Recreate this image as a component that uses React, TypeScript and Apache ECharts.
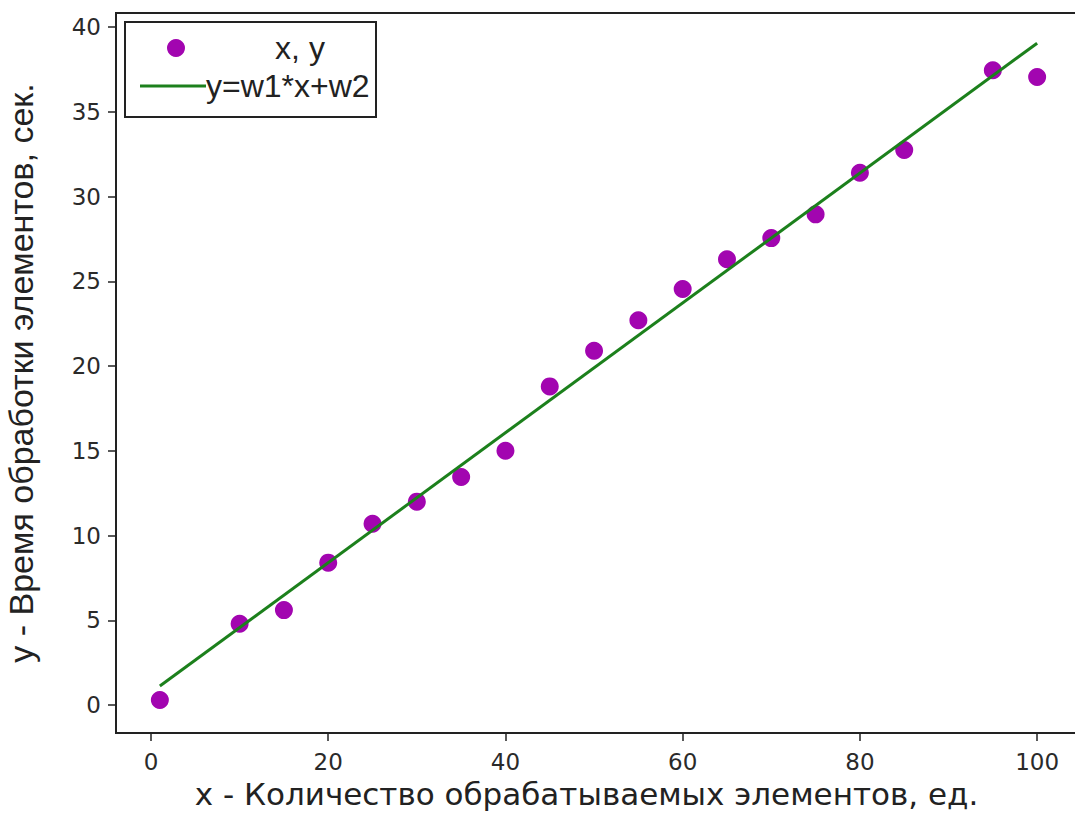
import React, { useEffect, useRef } from "react";
import * as echarts from "echarts";

const xValues = [1, 10, 15, 20, 25, 30, 35, 40, 45, 50, 55, 60, 65, 70, 75, 80, 85, 95, 100];
const yValues = [0.3, 4.8, 5.6, 8.4, 10.7, 12.0, 13.45, 15.0, 18.8, 20.9, 22.7, 24.55, 26.3, 27.55, 28.95, 31.4, 32.75, 37.45, 37.05];
const fitX = [1, 100];
const fitY = [1.12, 39.05];
const xTicks = [0, 20, 40, 60, 80, 100];
const yTicks = [0, 5, 10, 15, 20, 25, 30, 35, 40];

const scatterName = "x, y";
const lineName = "y=w1*x+w2";
const xTitle = "x - Количество обрабатываемых элементов, ед.";
const yTitle = "y - Время обработки элементов, сек.";

const markerColor = "#a205b0";
const lineColor = "#1c801c";

export default function App() {
  const ref = useRef<HTMLDivElement>(null);
  useEffect(() => {
    const chart = echarts.init(ref.current!, null, { renderer: "svg" });
    const axisCommon = {
      axisLine: { show: true, onZero: false, lineStyle: { color: "#222", width: 2 } },
      axisTick: { show: true, inside: false, length: 8, lineStyle: { color: "#222", width: 1.5 } },
      splitLine: { show: false },
      axisLabel: { color: "#2a2a2a", fontFamily: "DejaVu Sans", fontSize: 23 },
    };
    chart.setOption({
      animation: false,
      backgroundColor: "#fff",
      grid: {
        left: 116, top: 13, width: 965, height: 720,
        show: true, borderColor: "#222", borderWidth: 2, containLabel: false,
        outerBoundsMode: "none",
      },
      xAxis: {
        type: "value", min: -3.95, max: 104.95,
        ...axisCommon,
        axisTick: { ...axisCommon.axisTick, customValues: xTicks },
        axisLabel: { ...axisCommon.axisLabel, customValues: xTicks, margin: 17 },
        name: xTitle, nameLocation: "middle", nameGap: 45,
        nameTextStyle: { fontFamily: "DejaVu Sans", fontSize: 31, color: "#222", padding: [0, 24, 0, 0] },
      },
      yAxis: {
        type: "value", min: -1.65, max: 40.83,
        ...axisCommon,
        axisTick: { ...axisCommon.axisTick, customValues: yTicks },
        axisLabel: { ...axisCommon.axisLabel, customValues: yTicks, margin: 15 },
        name: yTitle, nameLocation: "middle", nameGap: 78,
        nameTextStyle: { fontFamily: "Liberation Sans", fontSize: 34, color: "#222" },
      },
      series: [
        {
          name: scatterName, type: "scatter", symbol: "circle", symbolSize: 18,
          itemStyle: { color: markerColor, opacity: 1 },
          data: xValues.map((x, i) => [x, yValues[i]]),
          z: 3,
        },
        {
          name: lineName, type: "line", symbol: "none",
          lineStyle: { color: lineColor, width: 3 },
          data: fitX.map((x, i) => [x, fitY[i]]),
          z: 4,
        },
      ],
      graphic: [
        { type: "rect", shape: { x: 125, y: 22, width: 251, height: 95 }, style: { fill: "#fff", stroke: "#222", lineWidth: 2 }, z: 10 },
        { type: "circle", shape: { cx: 176, cy: 48, r: 9 }, style: { fill: markerColor }, z: 11 },
        { type: "text", x: 300, y: 48, style: { text: scatterName, fontFamily: "Liberation Sans", fontSize: 32, fill: "#222", align: "center", verticalAlign: "middle" }, z: 11 },
        { type: "line", shape: { x1: 140, y1: 86, x2: 206, y2: 86 }, style: { stroke: lineColor, lineWidth: 3 }, z: 11 },
        { type: "text", x: 206, y: 86, style: { text: lineName, fontFamily: "Liberation Sans", fontSize: 32, fill: "#222", align: "left", verticalAlign: "middle" }, z: 11 },
      ],
    });
    return () => chart.dispose();
  }, []);
  return <div ref={ref} style={{ width: 1075, height: 814, position: "absolute", left: 0, top: 0 }} />;
}
